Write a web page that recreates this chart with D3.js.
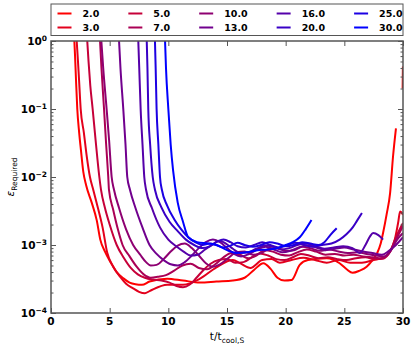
<!DOCTYPE html>
<html>
<head>
<meta charset="utf-8">
<script src="https://cdn.jsdelivr.net/npm/d3@7/dist/d3.min.js"></script>
<style>
  body { margin: 0; background: #fff; }
  text { font-family: "DejaVu Sans", sans-serif; }
</style>
</head>
<body>
<svg id="chart" width="415" height="351"></svg>
<script>
(function(){

	// Data: [t / t_cool,S , epsilon_required]
	var labels = ["2.0", "3.0", "5.0", "7.0", "10.0", "13.0", "16.0", "20.0", "25.0", "30.0"];

	var s2 = [[1.99,1.0],[2.05,0.6],[2.12,0.3],[2.24,0.1],[2.4,0.045],[2.55,0.025],[2.75,0.012],[3.0,0.0075],[3.47,0.0042],
		[3.9,0.0023],[4.2,0.0012],[4.6,8e-4],[5.1,5.5e-4],[5.6,4.0e-4],[6.2,3.2e-4],[6.7,2.8e-4],[7.2,2.65e-4],[7.75,2.6e-4],
		[8.4,2.9e-4],[9.9,3.2e-4],[11.25,3.0e-4],[12.7,2.8e-4],[14.1,2.9e-4],[15.5,3.0e-4],[16.5,3.3e-4],[17.3,4.3e-4],
		[18.1,5.4e-4],[18.7,4.5e-4],[19.3,3.3e-4],[19.9,3.0e-4],[20.5,3.05e-4],[21.2,5.1e-4],[21.9,6.0e-4],
		[23.5,6.4e-4],[24.6,5.4e-4],[25.2,4.4e-4],[25.7,3.9e-4],[26.3,4.2e-4],[26.9,4.8e-4],[27.4,6.0e-4],[27.8,7.6e-4],
		[28.1,1.05e-3],[28.3,1.5e-3],[28.6,2.8e-3],[28.9,5.8e-3],[29.15,0.02],[29.4,0.052],[29.5,null],[29.97,0.2],[29.99,0.42]];
	var s3 = [[2.19,1.0],[2.3,0.5],[2.4,0.25],[2.53,0.1],[2.8,0.045],[3.05,0.02],[3.32,0.01],[3.6,0.0065],[4.0,0.0035],
		[4.4,0.0018],[4.8,7.6e-4],[5.3,4.8e-4],[5.9,3.4e-4],[6.4,2.7e-4],[7.0,2.3e-4],[7.5,2.05e-4],[8.0,1.95e-4],[8.4,2.1e-4],
		[9.9,2.6e-4],[11.25,2.6e-4],[12.7,3.2e-4],[14.1,4.7e-4],[15.5,6.0e-4],[16.1,5.4e-4],[17.0,4.6e-4],[18.0,6.0e-4],
		[18.8,6.2e-4],[19.5,5.5e-4],[20.5,6.0e-4],[21.5,6.5e-4],[22.5,6.0e-4],[23.5,5.5e-4],[24.5,6.0e-4],[25.5,5.5e-4],
		[26.5,5.5e-4],[27.5,6.0e-4],[28.3,6.5e-4],[28.9,8.0e-4],[29.3,1.2e-3],[29.6,2.2e-3],[29.75,3.1e-3],[30.0,2.8e-3]];
	var s5 = [[3.09,1.0],[3.2,0.5],[3.35,0.22],[3.55,0.1],[3.8,0.035],[4.12,0.01],[4.26,0.0065],[4.6,0.0035],[5.0,0.002],
		[5.6,0.001],[6.2,6.5e-4],[6.8,4.6e-4],[7.4,3.7e-4],[8.0,3.3e-4],[8.7,3.1e-4],[9.4,3.0e-4],[10.1,2.8e-4],[10.7,2.5e-4],
		[11.25,2.4e-4],[11.8,2.6e-4],[12.4,3.3e-4],[13.0,4.3e-4],[13.6,5.3e-4],[14.3,6.0e-4],[15.0,6.2e-4],[15.7,5.5e-4],
		[16.4,5.6e-4],[17.1,6.6e-4],[17.8,7.5e-4],[18.5,7.0e-4],[19.2,6.2e-4],[19.9,6.0e-4],[20.6,6.6e-4],[21.3,7.4e-4],
		[22.0,7.0e-4],[22.8,6.4e-4],[23.6,6.6e-4],[24.4,6.2e-4],[25.2,6.0e-4],[26.0,6.4e-4],[26.8,6.6e-4],[27.6,6.2e-4],
		[28.3,6.3e-4],[28.9,8.0e-4],[29.4,1.3e-3],[30.0,2.1e-3]];
	var s7 = [[4.18,1.0],[4.3,0.4],[4.52,0.1],[4.7,0.03],[4.88,0.01],[4.94,0.0065],[5.3,0.0033],[5.7,0.0017],[6.1,0.001],
		[6.7,6.8e-4],[7.3,4.8e-4],[7.9,3.7e-4],[8.5,3.3e-4],[9.1,3.4e-4],[9.8,3.6e-4],[10.5,4.2e-4],[11.2,5.0e-4],[11.9,5.3e-4],
		[12.6,4.6e-4],[13.3,4.4e-4],[14.0,5.2e-4],[14.7,6.6e-4],[15.4,7.6e-4],[16.1,7.2e-4],[16.8,6.4e-4],[17.5,7.0e-4],
		[18.2,8.4e-4],[18.9,8.0e-4],[19.6,7.2e-4],[20.3,7.0e-4],[21.0,7.8e-4],[21.8,8.6e-4],[22.6,8.0e-4],[23.4,7.2e-4],
		[24.2,7.4e-4],[25.0,7.0e-4],[25.8,7.2e-4],[26.6,6.8e-4],[27.4,6.6e-4],[28.2,6.4e-4],[28.8,7.5e-4],[29.4,1.2e-3],[30.0,1.9e-3]];
	var s10 = [[4.29,1.0],[4.45,0.4],[4.74,0.1],[4.95,0.035],[5.17,0.01],[5.37,0.0065],[5.8,0.0035],[6.4,0.0017],[7.0,0.001],
		[7.6,7.2e-4],[8.1,5.6e-4],[8.5,5.0e-4],[9.0,5.1e-4],[9.6,6.2e-4],[10.2,8.0e-4],[10.8,9.8e-4],[11.4,1.05e-3],[12.0,9.0e-4],
		[12.6,7.0e-4],[13.2,5.4e-4],[13.8,4.8e-4],[14.4,5.2e-4],[15.1,6.4e-4],[15.8,7.8e-4],[16.5,8.0e-4],[17.2,7.2e-4],
		[17.9,7.6e-4],[18.6,8.8e-4],[19.3,9.0e-4],[20.0,8.2e-4],[20.7,8.4e-4],[21.4,9.4e-4],[22.1,9.0e-4],[22.9,8.2e-4],
		[23.7,8.6e-4],[24.5,8.0e-4],[25.3,7.6e-4],[26.1,7.8e-4],[26.9,7.4e-4],[27.7,7.0e-4],[28.4,6.8e-4],[29.0,8.5e-4],
		[29.5,1.2e-3],[30.0,1.5e-3]];
	var s13 = [[5.8,1.0],[5.92,0.4],[6.16,0.1],[6.35,0.03],[6.5,0.01],[6.73,0.0065],[7.2,0.0035],[7.8,0.0018],[8.4,0.001],
		[9.0,7.4e-4],[9.6,6.0e-4],[10.2,5.2e-4],[10.8,5.0e-4],[11.4,5.6e-4],[12.0,7.0e-4],[12.6,9.0e-4],[13.2,1.1e-3],[13.8,1.2e-3],
		[14.4,1.1e-3],[15.0,9.0e-4],[15.6,7.4e-4],[16.2,6.8e-4],[16.9,7.4e-4],[17.6,8.6e-4],[18.3,9.4e-4],[19.0,8.6e-4],
		[19.7,7.8e-4],[20.4,8.2e-4],[21.1,9.2e-4],[21.8,9.8e-4],[22.6,9.2e-4],[23.4,8.4e-4],[24.2,8.8e-4],[25.0,9.2e-4],
		[25.8,8.6e-4],[26.6,8.0e-4],[27.4,7.6e-4],[28.2,7.2e-4],[28.8,8.2e-4],[29.4,1.0e-3],[30.0,1.3e-3]];
	var s16 = [[7.44,1.0],[7.52,0.4],[7.64,0.1],[7.8,0.03],[7.95,0.01],[8.1,0.0065],[8.6,0.0035],[9.3,0.0018],[10.0,0.0012],
		[10.7,9.5e-4],[11.3,8.0e-4],[11.9,7.0e-4],[12.5,7.2e-4],[13.1,8.5e-4],[13.7,1.0e-3],[14.3,1.15e-3],[14.9,1.05e-3],
		[15.5,8.8e-4],[16.1,7.6e-4],[16.8,7.8e-4],[17.5,8.8e-4],[18.2,9.8e-4],[18.9,9.4e-4],[19.6,8.6e-4],[20.3,9.0e-4],
		[21.0,1.0e-3],[21.7,1.05e-3],[22.5,9.6e-4],[23.3,8.8e-4],[24.1,9.2e-4],[24.9,9.6e-4],[25.7,9.0e-4],[26.3,7.6e-4],
		[26.8,1.0e-3],[27.2,1.35e-3],[27.45,1.5e-3],[27.9,1.4e-3],[28.3,1.2e-3]];
	var s20 = [[8.16,1.0],[8.22,0.4],[8.29,0.1],[8.45,0.03],[8.67,0.01],[8.86,0.0065],[9.4,0.0036],[10.1,0.0022],[10.8,0.0016],
		[11.5,0.0012],[12.2,1.0e-3],[12.9,9.0e-4],[13.5,9.5e-4],[14.1,1.1e-3],[14.7,1.2e-3],[15.3,1.1e-3],[15.9,9.6e-4],
		[16.6,9.2e-4],[17.3,1.0e-3],[18.0,1.1e-3],[18.7,1.0e-3],[19.4,9.2e-4],[20.1,9.8e-4],[20.8,1.08e-3],[21.5,1.02e-3],
		[22.3,9.4e-4],[23.1,1.0e-3],[23.9,1.05e-3],[24.6,1.2e-3],[25.2,1.45e-3],[25.7,1.8e-3],[26.1,2.3e-3],[26.5,2.95e-3]];
	var s25 = [[8.86,1.0],[8.92,0.4],[9.0,0.1],[9.15,0.03],[9.29,0.01],[9.45,0.0065],[9.9,0.0038],[10.5,0.0024],[11.1,0.0017],
		[11.7,0.0013],[12.3,1.1e-3],[12.9,1.0e-3],[13.5,1.05e-3],[14.1,1.0e-3],[14.7,9.2e-4],[15.3,9.8e-4],[15.9,1.08e-3],
		[16.5,1.0e-3],[17.2,9.4e-4],[17.9,1.0e-3],[18.6,1.1e-3],[19.3,1.05e-3],[20.0,9.6e-4],[20.7,1.0e-3],[21.4,1.1e-3],
		[22.1,1.05e-3],[22.8,1.0e-3],[23.3,1.1e-3],[23.8,1.4e-3],[24.35,1.76e-3]];
	var s30 = [[9.72,1.0],[9.8,0.4],[10.0,0.1],[10.2,0.03],[10.4,0.0127],[10.8,0.0042],[11.25,0.0022],[11.7,0.0013],
		[12.45,1.1e-3],[13.4,1.05e-3],[14.1,1.0e-3],[15.0,8.4e-4],[15.9,7.6e-4],[16.7,7.8e-4],[17.6,8.4e-4],[18.5,8.6e-4],
		[19.3,9.0e-4],[20.0,1.0e-3],[20.6,1.1e-3],[21.2,1.3e-3],[21.7,1.7e-3],[22.2,2.33e-3]];

	var series = [s2, s3, s5, s7, s10, s13, s16, s20, s25, s30];

	var xTicks = [0, 5, 10, 15, 20, 25, 30];
	var yExponents = [-4, -3, -2, -1, 0];

	// Layout
	var plotLeft = 51, plotRight = 403, plotTop = 41, plotBottom = 313;
	var axisColor = "#555";

	var svg = d3.select("#chart");

	var x = d3.scaleLinear().domain([0, 30]).range([plotLeft, plotRight]);
	var y = d3.scaleLog().domain([1e-4, 1]).range([plotBottom, plotTop]);

	var color = function(i){
		return d3.interpolateRgb("rgb(255,0,0)", "rgb(0,0,255)")(i / (labels.length - 1));
	};

	svg.append("clipPath").attr("id", "plotClip")
		.append("rect")
		.attr("x", plotLeft).attr("y", plotTop)
		.attr("width", plotRight - plotLeft).attr("height", plotBottom - plotTop);

	//Curves
	var line = d3.line()
		.defined(function(d){ return d[1] != null; })
		.x(function(d){ return x(d[0]); })
		.y(function(d){ return y(d[1]); })
		.curve(d3.curveMonotoneX);

	svg.append("g").attr("clip-path", "url(#plotClip)")
		.selectAll("path")
		.data(series)
		.enter()
		.append("path")
		.attr("d", line)
		.attr("fill", "none")
		.attr("stroke", function(d, i){ return color(i); })
		.attr("stroke-width", 2)
		.attr("stroke-linejoin", "round");

	//Ticks (inward, on all four sides)
	var majorLen = 5, minorLen = 2.5;
	var yMinor = [];
	yExponents.forEach(function(e){
		if(e < 0){
			for(var m = 2; m < 10; m++) yMinor.push(m * Math.pow(10, e));
		}
	});
	var yMajor = yExponents.map(function(e){ return Math.pow(10, e); });

	svg.append("g").attr("transform", "translate(" + plotLeft + ",0)")
		.call(d3.axisLeft(y).tickValues(yMajor).tickSize(-majorLen).tickFormat(""));
	svg.append("g").attr("transform", "translate(" + plotLeft + ",0)")
		.call(d3.axisLeft(y).tickValues(yMinor).tickSize(-minorLen).tickFormat(""));
	svg.append("g").attr("transform", "translate(" + plotRight + ",0)")
		.call(d3.axisRight(y).tickValues(yMajor).tickSize(-majorLen).tickFormat(""));
	svg.append("g").attr("transform", "translate(" + plotRight + ",0)")
		.call(d3.axisRight(y).tickValues(yMinor).tickSize(-minorLen).tickFormat(""));
	svg.append("g").attr("transform", "translate(0," + plotBottom + ")")
		.call(d3.axisBottom(x).tickValues(xTicks).tickSize(-majorLen).tickFormat(""));
	svg.append("g").attr("transform", "translate(0," + plotTop + ")")
		.call(d3.axisTop(x).tickValues(xTicks).tickSize(-majorLen).tickFormat(""));

	svg.selectAll(".domain").remove();
	svg.selectAll(".tick line").attr("stroke", axisColor).attr("stroke-width", 1);

	//Frame
	svg.append("rect")
		.attr("x", plotLeft).attr("y", plotTop)
		.attr("width", plotRight - plotLeft).attr("height", plotBottom - plotTop)
		.attr("fill", "none").attr("stroke", axisColor).attr("stroke-width", 1.5);

	//Tick labels
	svg.append("g").selectAll("text")
		.data(xTicks)
		.enter()
		.append("text")
		.attr("x", function(d){ return x(d); })
		.attr("y", plotBottom + 12)
		.attr("text-anchor", "middle")
		.attr("font-size", "10.5px")
		.attr("font-weight", "bold")
		.text(function(d){ return d; });

	var yLab = svg.append("g").selectAll("text")
		.data(yExponents)
		.enter()
		.append("text")
		.attr("x", plotLeft - 4)
		.attr("y", function(d){ return y(Math.pow(10, d)) + 4; })
		.attr("text-anchor", "end")
		.attr("font-size", "10.5px")
		.attr("font-weight", "bold");
	yLab.append("tspan").text("10");
	yLab.append("tspan")
		.attr("dy", -4.5)
		.attr("font-size", "7.5px")
		.text(function(d){ return d < 0 ? "\u2212" + (-d) : d; });

	//Axis titles
	var xTitle = svg.append("text")
		.attr("x", (plotLeft + plotRight) / 2)
		.attr("y", 340)
		.attr("text-anchor", "middle")
		.attr("font-size", "10.5px");
	xTitle.append("tspan").text("t/t");
	xTitle.append("tspan").attr("dy", 3).attr("font-size", "7.5px").text("cool,S");

	var yTitle = svg.append("text")
		.attr("transform", "translate(14," + ((plotTop + plotBottom) / 2) + ") rotate(-90)")
		.attr("text-anchor", "middle")
		.attr("font-size", "10.5px");
	yTitle.append("tspan").attr("font-style", "italic").text("\u03b5");
	yTitle.append("tspan").attr("dy", 3).attr("font-size", "7.5px").text("Required");

	//Legend
	var legendTop = 4, legendBottom = 35.5;
	var legend = svg.append("g");
	legend.append("rect")
		.attr("x", plotLeft).attr("y", legendTop)
		.attr("width", plotRight - plotLeft).attr("height", legendBottom - legendTop)
		.attr("fill", "#fff").attr("stroke", axisColor).attr("stroke-width", 1);

	function textWidth(s){
		var t = legend.append("text").attr("font-size", "9.5px").attr("font-weight", "bold").text(s);
		var w = t.node().getComputedTextLength();
		t.remove();
		return w;
	}

	var nCols = 5, rowY = [13.5, 27.5];
	var colX = 57.5;
	for(var c = 0; c < nCols; c++){
		var colW = 0;
		for(var r = 0; r < 2; r++){
			var k = c * 2 + r;
			var yy = rowY[r];
			legend.append("line")
				.attr("x1", colX).attr("x2", colX + 14)
				.attr("y1", yy).attr("y2", yy)
				.attr("stroke", color(k)).attr("stroke-width", 2);
			legend.append("text")
				.attr("x", colX + 25).attr("y", yy + 3.5)
				.attr("font-size", "9.5px").attr("font-weight", "bold")
				.text(labels[k]);
			colW = Math.max(colW, textWidth(labels[k]));
		}
		colX = colX + 25 + colW + 29;
	}

})();
</script>
</body>
</html>
